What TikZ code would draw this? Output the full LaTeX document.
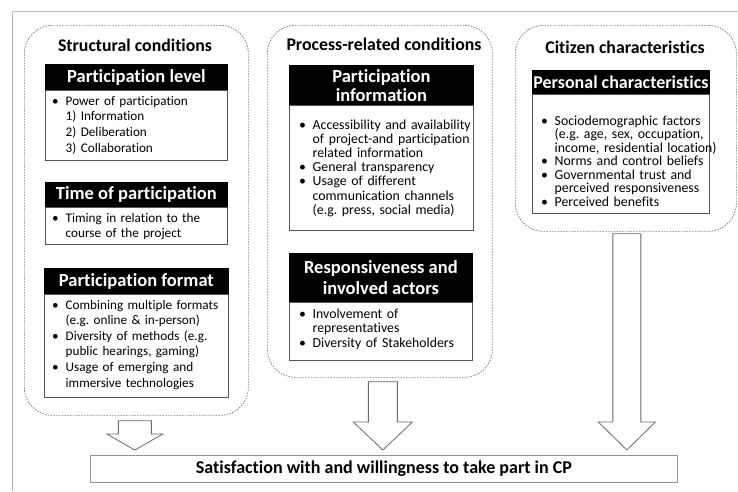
\documentclass[tikz,border=0pt]{standalone}
\usepackage{fontspec}
\setmainfont{Carlito}[Ligatures=NoCommon]
\usetikzlibrary{calc}
\frenchspacing

\definecolor{framegray}{HTML}{B8B8B8}
\definecolor{dashgray}{HTML}{7A7A7A}
\definecolor{boxgray}{HTML}{555555}
\definecolor{arrowgray}{HTML}{6A6A6A}

% bullet and hanging indent for the item lists
\newcommand\bul{\makebox[13.5pt][l]{•}}
\newcommand\cont{\hspace*{13.5pt}}

% block arrow from a group box down to the outcome box
% #1 source node, #2 x shift, #3 top gap, #4 shaft half width, #5 head half width, #6 head length
\newcommand\flowarrow[6]{%
  \draw[blockarrow] let \p1=($(#1.south)+(#2pt,0)$), \p2=(outcome.north) in
    (\x1-#4pt,\y1-#3pt) -- (\x1+#4pt,\y1-#3pt) -- (\x1+#4pt,\y2+5pt+#6pt)
    -- (\x1+#5pt,\y2+5pt+#6pt) -- (\x1,\y2+5pt) -- (\x1-#5pt,\y2+5pt+#6pt)
    -- (\x1-#4pt,\y2+5pt+#6pt) -- cycle;}

\tikzset{
  group/.style={draw=dashgray, dash pattern=on 1.6pt off 1.2pt, line width=0.7pt,
    rounded corners=28pt, anchor=north west, inner sep=0pt},
  title/.style={font=\bfseries\fontsize{17.8}{19}\selectfont, inner sep=0pt},
  hdr/.style={fill=black, draw=black, text=white, line width=0.8pt,
    font=\bfseries\fontsize{18.5}{19}\selectfont, anchor=north west,
    inner sep=0pt, align=center},
  bodybox/.style={draw=boxgray, fill=white, line width=0.8pt, anchor=north west, inner sep=0pt},
  bodytext/.style={anchor=base west, inner sep=0pt, align=left, text width=#1},
  blockarrow/.style={draw=arrowgray, fill=white, line width=0.8pt, line join=miter},
  outbox/.style={draw=framegray!80!black, fill=white, line width=0.8pt, anchor=north west,
    inner sep=0pt, font=\bfseries\fontsize{18}{19}\selectfont},
}

\begin{document}
\begin{tikzpicture}[x=1pt,y=-1pt]
\useasboundingbox (0,0) rectangle (738,491);

% outer frame
\draw[framegray, line width=0.9pt] (12,491) -- (12,11) -- (738,11);

% ---------- structural conditions ----------
\node[group, minimum width=224pt, minimum height=390pt] (groupL) at (24,25) {};
\node[title] (titleL) at (135,45) {Structural conditions};

\node[hdr, minimum width=182pt, minimum height=26pt] (plh) at (45,64) {Participation level};
\node[bodybox, minimum width=182pt, minimum height=70pt] (plb) at (45,90) {};
\node[bodytext=220pt, font=\fontsize{13.2}{15.7}\selectfont] (plt) at (52,105)
  {\bul Power of participation\\\cont 1) Information\\\cont 2) Deliberation\\\cont 3) Collaboration};

\node[hdr, minimum width=182pt, minimum height=25pt] (tph) at (45,182) {Time of participation};
\node[bodybox, minimum width=182pt, minimum height=37pt] (tpb) at (45,207) {};
\node[bodytext=220pt, font=\fontsize{13.2}{15.7}\selectfont] (tpt) at (52,222)
  {\bul Timing in relation to the\\\cont course of the project};

\node[hdr, minimum width=184pt, minimum height=26pt] (pfh) at (44,268) {Participation format};
\node[bodybox, minimum width=184pt, minimum height=103pt] (pfb) at (44,294) {};
\node[bodytext=220pt, font=\fontsize{13.2}{15.6}\selectfont] (pft) at (52,309)
  {\bul Combining multiple formats\\\cont (e.g. online \& in-person)\\
   \bul Diversity of methods (e.g.\\\cont public hearings, gaming)\\
   \bul Usage of emerging and\\\cont immersive technologies};

% ---------- process-related conditions ----------
\node[group, minimum width=225pt, minimum height=352pt] (groupM) at (267,25) {};
\node[title] (titleM) at (384,44) {Process-related conditions};

\node[hdr, minimum width=184pt, minimum height=40pt] (pih) at (289,65) {Participation\\information};
\node[bodybox, minimum width=184pt, minimum height=125pt] (pib) at (289,105) {};
\node[bodytext=220pt, font=\fontsize{13.8}{14.2}\selectfont] (pit) at (299,129)
  {\bul Accessibility and availability\\\cont of project-and participation\\\cont related information\\
   \bul General transparency\\
   \bul Usage of different\\\cont communication channels\\\cont (e.g. press, social media)};

\node[hdr, minimum width=183pt, minimum height=49pt, font=\bfseries\fontsize{18.5}{21}\selectfont]
  (rah) at (289,253) {Responsiveness and\\involved actors};
\node[bodybox, minimum width=183pt, minimum height=58pt] (rab) at (289,302) {};
\node[bodytext=220pt, font=\fontsize{13.8}{14.8}\selectfont] (rat) at (299,318)
  {\bul Involvement of\\\cont representatives\\\bul Diversity of Stakeholders};

% ---------- citizen characteristics ----------
\node[group, minimum width=221pt, minimum height=206pt] (groupR) at (515,25) {};
\node[title] (titleR) at (625,47) {Citizen characteristics};

\node[hdr, minimum width=177pt, minimum height=24pt, font=\bfseries\fontsize{18}{19}\selectfont]
  (pch) at (532,70) {Personal characteristics};
\node[bodybox, minimum width=177pt, minimum height=119pt] (pcb) at (532,94) {};
\node[bodytext=220pt, font=\fontsize{13.8}{13.5}\selectfont] (pct) at (541,125)
  {\bul Sociodemographic factors\\\cont (e.g. age, sex, occupation,\\\cont income, residential location)\\
   \bul Norms and control beliefs\\
   \bul Governmental trust and\\\cont perceived responsiveness\\
   \bul Perceived benefits};

% ---------- outcome ----------
\node[outbox, minimum width=587pt, minimum height=27pt] (outcome) at (90,455)
  {Satisfaction with and willingness to take part in CP};

\flowarrow{groupL}{-1.5}{5}{16.5}{28}{16}
\flowarrow{groupM}{3}{4}{14.5}{29.5}{28}
\flowarrow{groupR}{1}{2}{14}{28.5}{28}
\end{tikzpicture}
\end{document}
